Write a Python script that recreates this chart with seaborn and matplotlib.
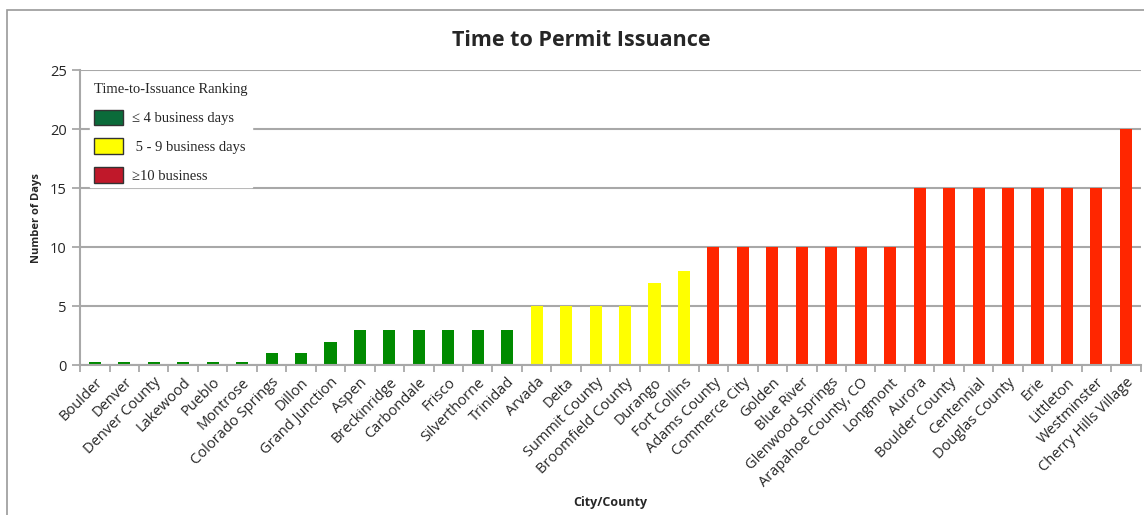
import matplotlib
matplotlib.use("Agg")
import matplotlib.pyplot as plt
import seaborn as sns
import pandas as pd
import numpy as np
from matplotlib.patches import Patch, Rectangle

cities = ["Boulder", "Denver", "Denver County", "Lakewood", "Pueblo", "Montrose",
          "Colorado Springs", "Dillon", "Grand Junction", "Aspen", "Breckinridge",
          "Carbondale", "Frisco", "Silverthorne", "Trinidad",
          "Arvada", "Delta", "Summit County", "Broomfield County", "Durango", "Fort Collins",
          "Adams County", "Commerce City", "Golden", "Blue River", "Glenwood Springs",
          "Arapahoe County, CO", "Longmont", "Aurora", "Boulder County", "Centennial",
          "Douglas County", "Erie", "Littleton", "Westminster", "Cherry Hills Village"]
days = [0.25, 0.25, 0.25, 0.25, 0.25, 0.25,
        1, 1, 2, 3, 3, 3, 3, 3, 3,
        5, 5, 5, 5, 7, 8,
        10, 10, 10, 10, 10, 10, 10,
        15, 15, 15, 15, 15, 15, 15, 20]
groups = ["fast"] * 15 + ["mid"] * 6 + ["slow"] * 15
legend_labels = ["\u2264 4 business days", " 5 - 9 business days", "\u226510 business"]
y_ticks = [0, 5, 10, 15, 20, 25]

bar_colors = {"fast": "#008a00", "mid": "#ffff00", "slow": "#ff2600"}
legend_colors = ["#0b6b3a", "#ffff00", "#c0182a"]

df = pd.DataFrame({"city": cities, "days": days, "group": groups})

sns.set_style("white")
plt.rcParams["font.family"] = ["Open Sans", "DejaVu Sans"]

fig = plt.figure(figsize=(11.44, 5.15), dpi=100)
ax = fig.add_axes([0.070, 0.291, 0.927, 0.573])

sns.barplot(data=df, x="city", y="days", hue="group", palette=bar_colors,
            dodge=False, width=0.41, legend=False, ax=ax, saturation=1, linewidth=0)

ax.set_ylim(0, 25)
ax.set_xlim(-0.5, len(cities) - 0.5)
ax.set_yticks(y_ticks)
ax.yaxis.grid(True, color="#a8a8a8", linewidth=1.5)
ax.set_axisbelow(True)
for s in ["top", "right"]:
    ax.spines[s].set_visible(False)
for s in ["left", "bottom"]:
    ax.spines[s].set_color("#a8a8a8")
    ax.spines[s].set_linewidth(1.5)

ax.set_xticks(range(len(cities)))
ax.set_xticklabels(cities, rotation=45, ha="right", rotation_mode="anchor", fontsize=10.5)
ax.tick_params(axis="x", which="major", length=0, pad=7, bottom=True)
ax.set_xticks(np.arange(-0.5, len(cities), 1.0), minor=True)
ax.tick_params(axis="x", which="minor", length=5, color="#a8a8a8", width=1.3,
               direction="out", bottom=True)
ax.tick_params(axis="y", length=6, color="#a8a8a8", width=1.3, labelsize=10.5,
               direction="out", left=True)

ax.set_ylabel("Number of Days", fontsize=8, fontweight="bold")
ax.yaxis.set_label_coords(-0.036, 0.5)
ax.set_xlabel("City/County", fontsize=9, fontweight="bold")
ax.xaxis.set_label_coords(0.50, -0.445)

fig.text(0.508, 0.922, "Time to Permit Issuance", ha="center", va="center",
         fontsize=15.5, fontweight="bold")

handles = [Patch(facecolor=c, edgecolor="#333333", linewidth=1.0) for c in legend_colors]
leg = ax.legend(handles, legend_labels, title="Time-to-Issuance Ranking",
                loc="upper left", bbox_to_anchor=(0.009, 0.972), frameon=True,
                prop={"family": "Liberation Serif", "size": 10.5},
                title_fontproperties={"family": "Liberation Serif", "size": 10.5},
                handlelength=2.0, handleheight=1.3, labelspacing=0.88,
                handletextpad=0.6, borderpad=0.3, borderaxespad=0.0,
                alignment="left", fancybox=False)
leg.get_frame().set_edgecolor("white")
leg.get_frame().set_facecolor("white")
leg.get_frame().set_alpha(1)
leg._legend_box.sep = 10

fig.patches.append(Rectangle((7 / 1144, -0.1), 1.2, 1 - 10 / 515 + 0.1,
                             transform=fig.transFigure, fill=False,
                             edgecolor="#9a9a9a", linewidth=1.2))

fig.savefig("out.png", dpi=100)
